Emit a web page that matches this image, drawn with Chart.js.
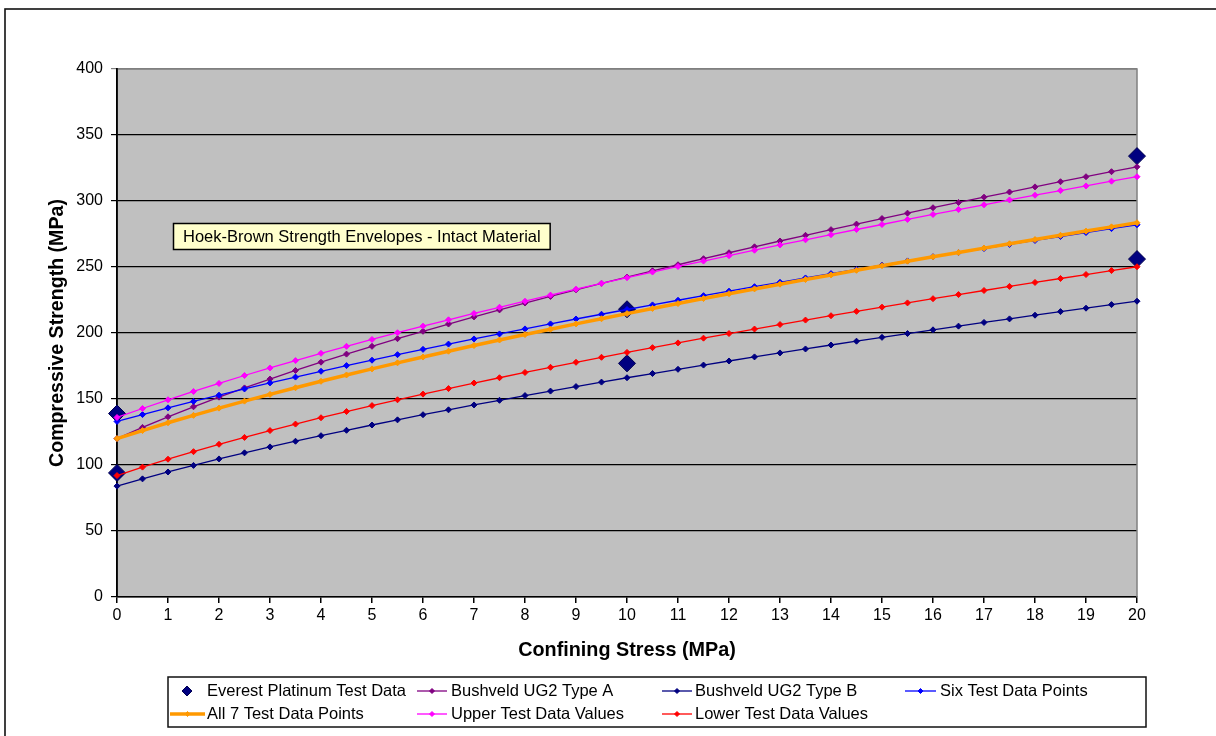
<!DOCTYPE html>
<html>
<head>
<meta charset="utf-8">
<script src="https://cdn.jsdelivr.net/npm/chart.js@4.4.1/dist/chart.umd.min.js"></script>
<style>
  html, body { margin: 0; padding: 0; background: #ffffff; overflow: hidden; }
  #wrap { position: relative; width: 1216px; height: 736px; }
</style>
</head>
<body>
<div id="wrap"><canvas id="c" width="1216" height="736"></canvas></div>
<script>
// Confining stress (MPa) at which each strength envelope is sampled
const confiningStress = [0, 0.5, 1, 1.5, 2, 2.5, 3, 3.5, 4, 4.5, 5, 5.5, 6, 6.5, 7, 7.5, 8, 8.5, 9, 9.5,
  10, 10.5, 11, 11.5, 12, 12.5, 13, 13.5, 14, 14.5, 15, 15.5, 16, 16.5, 17, 17.5, 18, 18.5, 19, 19.5, 20];

// Compressive strength (MPa) of each envelope
const bushveldTypeA = [120.0, 128.5, 136.5, 144.1, 151.4, 158.4, 165.1, 171.6, 177.9, 184.0, 189.9, 195.7, 201.3, 206.8,
  212.2, 217.5, 222.7, 227.7, 232.7, 237.6, 242.4, 247.1, 251.7, 256.3, 260.8, 265.3, 269.7, 274.0, 278.3, 282.5,
  286.7, 290.8, 294.9, 298.9, 302.9, 306.8, 310.7, 314.6, 318.4, 322.2, 325.9];
const bushveldTypeB = [84.0, 89.5, 94.7, 99.7, 104.6, 109.2, 113.7, 118.0, 122.2, 126.3, 130.3, 134.2, 138.1, 141.8,
  145.5, 149.0, 152.6, 156.0, 159.4, 162.8, 166.1, 169.3, 172.5, 175.7, 178.8, 181.9, 184.9, 187.9, 190.9, 193.8,
  196.7, 199.6, 202.4, 205.2, 208.0, 210.7, 213.5, 216.2, 218.8, 221.5, 224.1];
const sixTestPoints = [133.0, 138.2, 143.3, 148.2, 152.9, 157.6, 162.2, 166.6, 171.0, 175.3, 179.4, 183.6, 187.6, 191.6,
  195.5, 199.3, 203.1, 206.9, 210.6, 214.2, 217.8, 221.3, 224.8, 228.3, 231.7, 235.1, 238.4, 241.7, 245.0, 248.2,
  251.5, 254.6, 257.8, 260.9, 264.0, 267.1, 270.1, 273.1, 276.1, 279.1, 282.0];
const allSevenTestPoints = [120.0, 126.1, 132.0, 137.6, 143.1, 148.4, 153.5, 158.5, 163.4, 168.2, 172.8, 177.4, 181.8, 186.2,
  190.5, 194.7, 198.8, 202.9, 206.9, 210.8, 214.7, 218.6, 222.3, 226.1, 229.8, 233.4, 237.0, 240.5, 244.0, 247.5,
  251.0, 254.4, 257.7, 261.0, 264.3, 267.6, 270.8, 274.0, 277.2, 280.4, 283.5];
const upperTestValues = [136.0, 142.8, 149.4, 155.7, 161.8, 167.8, 173.5, 179.1, 184.6, 189.9, 195.1, 200.2, 205.2, 210.0,
  214.8, 219.5, 224.1, 228.7, 233.2, 237.6, 241.9, 246.2, 250.4, 254.5, 258.6, 262.7, 266.7, 270.6, 274.5, 278.4,
  282.2, 286.0, 289.8, 293.5, 297.1, 300.8, 304.4, 307.9, 311.4, 315.0, 318.4];
const lowerTestValues = [92.0, 98.4, 104.4, 110.1, 115.7, 120.9, 126.1, 131.0, 135.8, 140.5, 145.0, 149.4, 153.7, 157.9,
  162.1, 166.1, 170.1, 174.0, 177.8, 181.6, 185.3, 188.9, 192.5, 196.1, 199.6, 203.0, 206.4, 209.8, 213.1, 216.4,
  219.6, 222.8, 226.0, 229.1, 232.2, 235.3, 238.3, 241.3, 244.3, 247.3, 250.2];

// Everest Platinum laboratory results
const everestStress = [0, 0, 10, 10, 20, 20];
const everestStrength = [139, 94, 218, 177, 334, 256];

const seriesNames = ['Everest Platinum Test Data', 'Bushveld UG2 Type A', 'Bushveld UG2 Type B', 'Six Test Data Points',
  'All 7 Test Data Points', 'Upper Test Data Values', 'Lower Test Data Values'];
const noteText = 'Hoek-Brown Strength Envelopes - Intact Material';
const xTitle = 'Confining Stress (MPa)';
const yTitle = 'Compressive Strength (MPa)';

const FONT = '"Liberation Sans", Arial, Helvetica, sans-serif';

function pairs(xs, ys) { return ys.map((y, i) => ({ x: xs[i], y })); }

function lineSeries(label, values, color, width, order) {
  return {
    label, data: pairs(confiningStress, values), order, clip: false,
    borderColor: color, backgroundColor: color, borderWidth: width,
    pointStyle: 'rectRot', pointRadius: 3, pointHoverRadius: 3,
    pointBackgroundColor: color, pointBorderColor: color, pointBorderWidth: 1,
    tension: 0, showLine: true
  };
}

const datasets = [
  {
    label: seriesNames[0], data: pairs(everestStress, everestStrength), order: 7, clip: false,
    showLine: false, pointStyle: 'rectRot', pointRadius: 8.5, pointHoverRadius: 8.5,
    pointBackgroundColor: '#000080', pointBorderColor: '#000050', pointBorderWidth: 1,
    borderColor: '#000080', backgroundColor: '#000080'
  },
  lineSeries(seriesNames[1], bushveldTypeA, '#800080', 1.3, 6),
  lineSeries(seriesNames[2], bushveldTypeB, '#000080', 1.3, 5),
  lineSeries(seriesNames[3], sixTestPoints, '#0000FF', 1.3, 4),
  lineSeries(seriesNames[4], allSevenTestPoints, '#FF9900', 3.5, 3),
  lineSeries(seriesNames[5], upperTestValues, '#FF00FF', 1.3, 2),
  lineSeries(seriesNames[6], lowerTestValues, '#FF0000', 1.3, 1)
];

function diamond(ctx, x, y, r, fill, stroke) {
  ctx.beginPath();
  ctx.moveTo(x, y - r); ctx.lineTo(x + r, y); ctx.lineTo(x, y + r); ctx.lineTo(x - r, y);
  ctx.closePath();
  ctx.fillStyle = fill; ctx.fill();
  ctx.strokeStyle = stroke; ctx.lineWidth = 1; ctx.stroke();
}

// Grey plot area, outer frame and the right/top plot edges
const plotFrame = {
  id: 'plotFrame',
  beforeDraw(chart) {
    const { ctx, chartArea: a } = chart;
    ctx.save();
    ctx.fillStyle = '#ffffff';
    ctx.fillRect(0, 0, chart.width, chart.height);
    ctx.strokeStyle = '#111111'; ctx.lineWidth = 1.6;
    ctx.strokeRect(5, 9, 1400, 900);
    ctx.fillStyle = '#C0C0C0';
    ctx.fillRect(a.left, a.top, a.right - a.left, a.bottom - a.top);
    ctx.restore();
  },
  beforeDatasetsDraw(chart) {
    const { ctx, chartArea: a } = chart;
    ctx.save();
    ctx.strokeStyle = '#808080'; ctx.lineWidth = 1.5;
    ctx.beginPath();
    ctx.moveTo(a.left, a.top); ctx.lineTo(a.right, a.top); ctx.lineTo(a.right, a.bottom);
    ctx.stroke();
    ctx.strokeStyle = '#000000'; ctx.lineWidth = 1.5;
    ctx.beginPath(); ctx.moveTo(a.left, a.top - 1); ctx.lineTo(a.left, a.bottom); ctx.stroke();
    ctx.restore();
  }
};

// Text box naming the envelopes
const noteBox = {
  id: 'noteBox',
  afterDatasetsDraw(chart) {
    const { ctx } = chart;
    ctx.save();
    ctx.font = '16.5px ' + FONT;
    const w = ctx.measureText(noteText).width + 19;
    ctx.fillStyle = '#FFFFCC';
    ctx.fillRect(173.5, 223.5, w, 26);
    ctx.strokeStyle = '#000000'; ctx.lineWidth = 1.5;
    ctx.strokeRect(173.5, 223.5, w, 26);
    ctx.fillStyle = '#000000'; ctx.textBaseline = 'middle'; ctx.textAlign = 'left';
    ctx.fillText(noteText, 183, 237);
    ctx.restore();
  }
};

// Boxed two-row legend under the x axis
const legendSlots = [
  { x0: null, x1: null, mx: 187, tx: 207, y: 691 },
  { x0: 417, x1: 447, tx: 451, y: 691 },
  { x0: 662, x1: 692, tx: 695, y: 691 },
  { x0: 905, x1: 936, tx: 940, y: 691 },
  { x0: 170, x1: 205, tx: 207, y: 714 },
  { x0: 417, x1: 447, tx: 451, y: 714 },
  { x0: 662, x1: 692, tx: 695, y: 714 }
];
const boxLegend = {
  id: 'boxLegend',
  afterDraw(chart) {
    const { ctx } = chart;
    ctx.save();
    ctx.fillStyle = '#ffffff';
    ctx.fillRect(168, 677, 978, 50);
    ctx.strokeStyle = '#111111'; ctx.lineWidth = 1.5;
    ctx.strokeRect(168, 677, 978, 50);
    ctx.font = '16.5px ' + FONT; ctx.textBaseline = 'middle'; ctx.textAlign = 'left';
    chart.data.datasets.forEach((ds, i) => {
      const s = legendSlots[i];
      if (s.x0 === null) {
        diamond(ctx, s.mx, s.y, 5, ds.pointBackgroundColor, ds.pointBorderColor);
      } else {
        ctx.strokeStyle = ds.borderColor; ctx.lineWidth = ds.borderWidth;
        ctx.beginPath(); ctx.moveTo(s.x0, s.y); ctx.lineTo(s.x1, s.y); ctx.stroke();
        diamond(ctx, (s.x0 + s.x1) / 2, s.y, 2.5, ds.pointBackgroundColor, ds.pointBorderColor);
      }
      ctx.fillStyle = '#000000';
      ctx.fillText(ds.label, s.tx, s.y + 0.5);
    });
    ctx.restore();
  }
};

new Chart(document.getElementById('c'), {
  type: 'scatter',
  data: { datasets },
  plugins: [plotFrame, noteBox, boxLegend],
  options: {
    responsive: false,
    animation: false,
    devicePixelRatio: 1,
    layout: { padding: { top: 69, right: 79, left: 0, bottom: 0 } },
    plugins: { legend: { display: false }, tooltip: { enabled: false }, title: { display: false } },
    scales: {
      x: {
        type: 'linear', min: 0, max: 20,
        afterFit(scale) { scale.height = 139; },
        ticks: { stepSize: 1, color: '#000000', font: { size: 16, family: FONT }, padding: 3, maxRotation: 0 },
        grid: { drawOnChartArea: false, drawTicks: true, tickLength: 6, color: '#000000', lineWidth: 1.5 },
        border: { display: true, color: '#000000', width: 1.5 },
        title: { display: true, text: xTitle, color: '#000000', font: { size: 19.8, weight: 'bold', family: FONT }, padding: { top: 0, bottom: 74 } }
      },
      y: {
        min: 0, max: 400,
        afterFit(scale) { scale.width = 117; },
        ticks: { stepSize: 50, color: '#000000', font: { size: 16, family: FONT }, padding: 8 },
        grid: {
          drawTicks: true, tickLength: 6, lineWidth: 1.2,
          color: (c) => (c.tick && c.tick.value === 400 ? '#808080' : '#000000')
        },
        border: { display: true, color: '#000000', width: 1.5 },
        title: { display: true, text: yTitle, color: '#000000', font: { size: 19.6, weight: 'bold', family: FONT }, padding: { top: 46, bottom: 0 } }
      }
    }
  }
});
</script>
</body>
</html>
